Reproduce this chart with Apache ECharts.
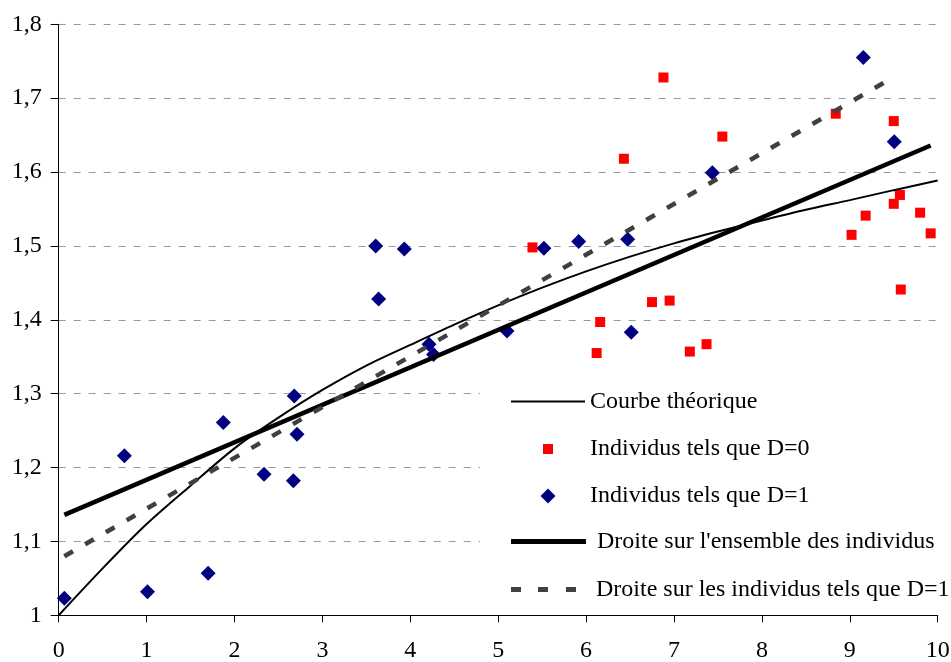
<!DOCTYPE html>
<html>
<head>
<meta charset="utf-8">
<script src="https://cdn.jsdelivr.net/npm/echarts@6/dist/echarts.min.js"></script>
<style>html,body{margin:0;padding:0;background:#fff;}#c{width:951px;height:662px;}</style>
</head>
<body>
<div id="c"></div>
<script>
// ---- data ----
const theoX = [0, 0.5, 1, 1.5, 2, 2.5, 3, 3.5, 4, 4.5, 5, 5.5, 6, 6.5, 7, 7.5, 8, 8.5, 9, 9.5, 10];
const theoY = [1.0, 1.0635, 1.1235, 1.1755, 1.226, 1.2675, 1.305, 1.338, 1.366, 1.3935, 1.4195, 1.4435, 1.4655, 1.4855, 1.5035, 1.5195, 1.5345, 1.549, 1.562, 1.5755, 1.5885];

const d0X = [5.39, 6.12, 6.16, 6.43, 6.75, 6.88, 6.95, 7.18, 7.37, 7.55, 8.84, 9.02, 9.18, 9.50, 9.50, 9.57, 9.58, 9.80, 9.92];
const d0Y = [1.498, 1.355, 1.397, 1.618, 1.424, 1.728, 1.426, 1.357, 1.367, 1.648, 1.679, 1.515, 1.541, 1.669, 1.557, 1.569, 1.441, 1.545, 1.517];

const d1X = [0.064, 0.747, 1.01, 1.70, 1.873, 2.336, 2.67, 2.68, 2.711, 3.606, 3.64, 3.932, 4.213, 4.265, 5.10, 5.52, 5.916, 6.473, 6.514, 7.436, 9.154, 9.506];
const d1Y = [1.023, 1.216, 1.032, 1.057, 1.261, 1.191, 1.182, 1.297, 1.245, 1.500, 1.428, 1.496, 1.367, 1.353, 1.385, 1.497, 1.506, 1.509, 1.383, 1.599, 1.755, 1.641];

const allLineX = [0.064, 9.92];
const allLineY = [1.136, 1.636];
const d1LineX = [0.064, 9.506];
const d1LineY = [1.080, 1.729];

const yTickLabels = ['1', '1,1', '1,2', '1,3', '1,4', '1,5', '1,6', '1,7', '1,8'];
const xTickLabels = ['0', '1', '2', '3', '4', '5', '6', '7', '8', '9', '10'];

const names = ['Courbe théorique', 'Individus tels que D=0', 'Individus tels que D=1',
  "Droite sur l'ensemble des individus", 'Droite sur les individus tels que D=1'];

const zip = (xs, ys) => xs.map((x, i) => [x, ys[i]]);
const FONT = "'Liberation Serif', 'Times New Roman', serif";

const chart = echarts.init(document.getElementById('c'), null, {renderer: 'canvas'});
const textStyle = {fontFamily: FONT, fontSize: 24, color: '#000'};

function legendItem(name, icon, color, left, top, itemWidth, itemHeight, padLeft) {
  return {
    data: [{name: name, icon: icon, itemStyle: {color: color, borderWidth: 0, opacity: 1}}],
    left: left, top: top, orient: 'vertical', padding: 0,
    itemWidth: itemWidth, itemHeight: itemHeight, symbolKeepAspect: true,
    selectedMode: false,
    textStyle: Object.assign({}, textStyle, {padding: [0, 0, 0, padLeft]})
  };
}

chart.setOption({
  animation: false,
  backgroundColor: '#fff',
  grid: {left: 58.7, right: 13.3, top: 24.3, bottom: 46.7, containLabel: false, outerBoundsMode: 'none'},
  xAxis: {
    type: 'value', min: 0, max: 10, interval: 1,
    axisLine: {show: true, lineStyle: {color: '#000', width: 1}},
    axisTick: {show: true, inside: false, length: 7, lineStyle: {color: '#000'}},
    axisLabel: {margin: 23, fontFamily: FONT, fontSize: 24, color: '#000',
      formatter: v => xTickLabels[Math.round(v)]},
    splitLine: {show: false}
  },
  yAxis: {
    type: 'value', min: 1, max: 1.8, interval: 0.1,
    axisLine: {show: true, lineStyle: {color: '#000', width: 1}},
    axisTick: {show: true, inside: false, length: 8, lineStyle: {color: '#000'}},
    axisLabel: {margin: 17, fontFamily: FONT, fontSize: 24, color: '#000',
      formatter: v => yTickLabels[Math.round((v - 1) * 10)]},
    splitLine: {show: true, lineStyle: {color: '#999', width: 1, type: [7, 8]}}
  },
  graphic: [{
    type: 'rect', z: 1, silent: true,
    shape: {x: 480, y: 372, width: 471, height: 240},
    style: {fill: '#fff'}
  }],
  legend: [
    legendItem(names[0], 'path://M0,0H74V2H0Z', '#000', 511, 389.5, 74, 2, 0),
    legendItem(names[1], 'path://M0,0H1V1H0Z', '#ff0000', 543, 437, 10, 10, 32),
    legendItem(names[2], 'path://M1,0L2,1L1,2L0,1Z', '#000080', 540.5, 484, 15, 15, 29.5),
    legendItem(names[3], 'path://M0,0H75V5H0Z', '#000', 511, 529.5, 75, 5, 6),
    legendItem(names[4], 'path://M0,0h10v5h-10z M27,0h10v5h-10z M55,0h10v5h-10z', '#404040', 511, 577.5, 65, 5, 15)
  ],
  series: [
    {
      name: names[1], type: 'scatter', z: 3, symbol: 'rect', symbolSize: 10,
      itemStyle: {color: '#ff0000', opacity: 1}, data: zip(d0X, d0Y)
    },
    {
      name: names[2], type: 'scatter', z: 4, symbol: 'diamond', symbolSize: 15,
      itemStyle: {color: '#000080', opacity: 1}, data: zip(d1X, d1Y)
    },
    {
      name: names[0], type: 'line', z: 5, showSymbol: false, symbol: 'none', smooth: 0.3,
      lineStyle: {color: '#000', width: 2}, data: zip(theoX, theoY)
    },
    {
      name: names[3], type: 'line', z: 5, showSymbol: false, symbol: 'none',
      lineStyle: {color: '#000', width: 4.5}, data: zip(allLineX, allLineY)
    },
    {
      name: names[4], type: 'line', z: 5, showSymbol: false, symbol: 'none',
      lineStyle: {color: '#404040', width: 4.5, type: [10, 14]}, data: zip(d1LineX, d1LineY)
    }
  ]
});
</script>
</body>
</html>
